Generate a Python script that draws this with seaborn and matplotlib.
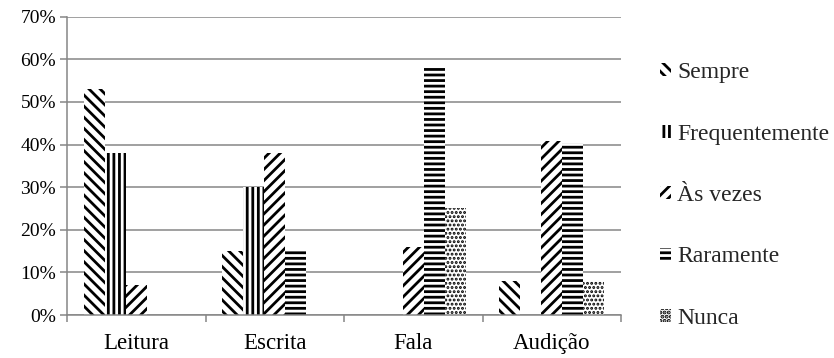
import matplotlib
matplotlib.use("Agg")
import matplotlib.pyplot as plt
from matplotlib import font_manager
from matplotlib.font_manager import FontProperties
import seaborn as sns
import pandas as pd
from matplotlib.ticker import FixedLocator

categories = ["Leitura", "Escrita", "Fala", "Audição"]
series = ["Sempre", "Frequentemente", "Às vezes", "Raramente", "Nunca"]
sempre = [53, 15, 0, 8]
frequentemente = [38, 30, 0, 0]
as_vezes = [7, 38, 16, 40.8]
raramente = [0, 15, 58, 40.4]
nunca = [0, 0, 25, 8]
yticks = [0, 10, 20, 30, 40, 50, 60, 70]

values = [sempre, frequentemente, as_vezes, raramente, nunca]
rows = []
for s, vals in zip(series, values):
    for c, v in zip(categories, vals):
        rows.append({"Categoria": c, "Série": s, "Valor": v})
df = pd.DataFrame(rows)

sns.set_style("white")

serif_path = None
for cand in ["Liberation Serif", "Tinos", "Times New Roman", "Nimbus Roman", "DejaVu Serif"]:
    for f in font_manager.fontManager.ttflist:
        if f.name == cand and f.style == "normal" and f.weight in (400, "normal", "regular"):
            serif_path = f.fname
            break
    if serif_path:
        break
if serif_path is None:
    serif_path = font_manager.findfont(FontProperties(family="serif"))
serif_name = FontProperties(fname=serif_path).get_name()
plt.rcParams["font.family"] = [serif_name, "DejaVu Serif"]
plt.rcParams["hatch.linewidth"] = 2.0


def fp(size):
    return FontProperties(fname=serif_path, size=size)


fig = plt.figure(figsize=(8.34, 3.58), dpi=100)
ax = fig.add_axes([67 / 834, 1 - 315 / 358, (621 - 67) / 834, (315 - 16.7) / 358])

hatches = ["\\\\\\", "|||", "///", "---", "...."]
hatch_lw = [2.0, 2.0, 2.0, 2.0, 1.4]
sns.barplot(data=df, x="Categoria", y="Valor", hue="Série", order=categories,
            hue_order=series, palette=["white"] * 5, width=0.76,
            edgecolor="black", linewidth=0, errorbar=None, ax=ax, legend=True)


def style_patch(p, h, lw):
    p.set_hatch(h)
    p.set_edgecolor("black")
    p.set_linewidth(0)
    if hasattr(p, "set_hatch_linewidth"):
        p.set_hatch_linewidth(lw)


for cont, h, lw in zip(ax.containers, hatches, hatch_lw):
    for p in cont:
        style_patch(p, h, lw)

gc = "#868686"
ax.set_ylim(0, 70)
ax.set_xlim(-0.5, 3.5)
ax.set_xticks(range(len(categories)))
ax.set_xticklabels(categories, fontproperties=fp(16.5), color="black")
ax.set_yticks(yticks)
ax.set_yticklabels([f"{v}%" for v in yticks], fontproperties=fp(14), color="black")
ax.grid(axis="y", color=gc, linewidth=1.1)
ax.set_axisbelow(True)
ax.set_xlabel("")
ax.set_ylabel("")
for side in ["top", "right"]:
    ax.spines[side].set_visible(False)
for side in ["left", "bottom"]:
    ax.spines[side].set_color(gc)
    ax.spines[side].set_linewidth(1.1)

ax.tick_params(axis="y", which="major", direction="out", length=5, color=gc,
               width=1.1, pad=3, left=True)
ax.tick_params(axis="x", which="major", length=0, pad=13)
ax.xaxis.set_minor_locator(FixedLocator([-0.5, 0.5, 1.5, 2.5, 3.5]))
ax.tick_params(axis="x", which="minor", direction="out", length=5, color=gc,
               width=1.1, bottom=True)

handles, labels = ax.get_legend_handles_labels()
ax.get_legend().remove()
for hd, h, lw in zip(handles, hatches, hatch_lw):
    style_patch(hd, h, lw)
fig.legend(handles, labels, loc="center left", bbox_to_anchor=(660 / 834, 1 - 195.5 / 358),
           frameon=False, prop=fp(17),
           handlelength=0.45, handleheight=0.45,
           handletextpad=0.28, labelspacing=1.71, borderpad=0, borderaxespad=0)

fig.savefig("out.png", dpi=100)
